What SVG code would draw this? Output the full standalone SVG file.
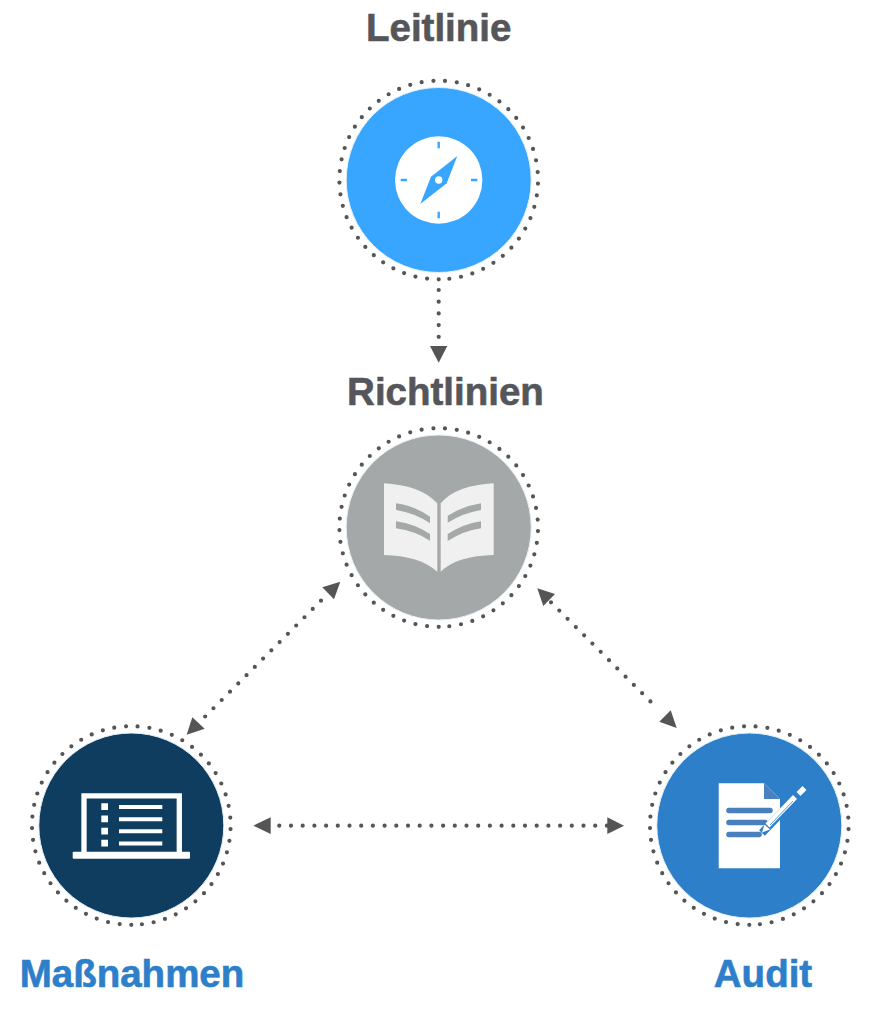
<svg xmlns="http://www.w3.org/2000/svg" width="885" height="1024" viewBox="0 0 885 1024">
<style>
.ring{fill:none;stroke:#555;stroke-width:4.2;stroke-linecap:round;stroke-dasharray:0 11.772}
.halo{stroke:#e6f0f5;stroke-width:1}
.flow{fill:none;stroke:#555;stroke-width:4.2;stroke-linecap:round;stroke-dasharray:0 11.7}
.head{fill:#555}
.t{font-family:"Liberation Sans",Arial,sans-serif;font-weight:700;font-size:38.5px;text-anchor:middle;stroke-width:.6}
.g{fill:#55565a;stroke:#55565a}.b{fill:#2e7fc9;stroke:#2e7fc9}
</style>
<rect width="885" height="1024" fill="#fff"/>
<g id="connectors">
<line class="flow" x1="438.700" y1="290" x2="438.700" y2="338"/>
<polygon class="head" points="430,346 447.300,346 438.700,362.700"/>
<line class="flow" x1="321" y1="600.700" x2="205" y2="716.700"/>
<polygon class="head" points="340.300,581.700 322.300,587.300 334,599.300"/>
<polygon class="head" points="186.700,734.700 192.300,717.300 204.700,728.700"/>
<line class="flow" x1="551" y1="602.300" x2="658.300" y2="709.300"/>
<polygon class="head" points="537.300,588.300 555,594 543.300,606"/>
<polygon class="head" points="676.700,728 659.300,721.700 670.700,710.300"/>
<line class="flow" x1="279.300" y1="825.700" x2="607" y2="825.700"/>
<polygon class="head" points="253.300,825.700 270.700,817.300 270.700,834"/>
<polygon class="head" points="624,825.700 607.300,817.300 607.300,834"/>
</g>
<g id="leitlinie">
<circle class="ring" cx="438.700" cy="180" r="99.300" transform="rotate(90 438.700 180)"/>
<circle cx="438.700" cy="180" r="92.500" fill="#38a6ff" class="halo"/>
<circle cx="438.700" cy="180" r="43.700" fill="#fff"/>
<polygon points="457.300,156 446.700,183.300 420.300,204 431,176.700" fill="#38a6ff"/>
<circle cx="438.700" cy="180" r="3.700" fill="#fff"/>
<path d="M438.700 141.700v6.500M438.700 211.800v6.500M400.700 180h6.300M471 180h6.300" stroke="#38a6ff" stroke-width="2.400" fill="none"/>
<text class="t g" x="438.700" y="41">Leitlinie</text>
</g>
<g id="richtlinien">
<circle class="ring" cx="438.700" cy="527.500" r="99.300" transform="rotate(90 438.700 527.500)"/>
<circle cx="438.700" cy="527.500" r="92.500" fill="#a5a8a8" class="halo"/>
<path d="M384 483.300C407 484.500 426 491 437.300 503.300V571.700C426 561 407 555.500 384 555Z" fill="#f0f0f0"/>
<path d="M493.700 483.300C470 484.500 451 491 440.700 503.300V571.700C451 561 470 555.500 493.700 555Z" fill="#f0f0f0"/>
<path d="M396 503.300Q415 506 430 516.700V523.300Q415 513 396 510ZM396 521.300Q415 524 430 534V540.700Q415 531 396 528.300ZM481 503.300Q463 506 447.700 515.700V522.700Q463 513 481 510ZM481 521.300Q463 524 447.700 534V541Q463 531 481 528.300Z" fill="#a5a8a8"/>
<text class="t g" x="445.500" y="405">Richtlinien</text>
</g>
<g id="massnahmen">
<circle class="ring" cx="131.300" cy="825.500" r="99.300" transform="rotate(90 131.300 825.500)"/>
<circle cx="131.300" cy="825.500" r="92.500" fill="#0f3d5f" class="halo"/>
<path d="M84 852V795.800H179.300V852" fill="none" stroke="#fff" stroke-width="5.300"/>
<rect x="72.700" y="851.700" width="117.300" height="7" rx="1" fill="#fff"/>
<path d="M101.300 803.300h6.700v6.700h-6.700zM101.300 815.500h6.700v6.700h-6.700zM101.300 827.700h6.700v6.700h-6.700zM101.300 839.800h6.700v6.700h-6.700z" fill="#fff"/>
<path d="M119 805h43.300v4h-43.300zM119 817.200h43.300v4h-43.300zM119 829.300h43.300v4h-43.300zM119 841.400h43.300v4h-43.300z" fill="#fff"/>
<text class="t b" x="132" y="987">Maßnahmen</text>
</g>
<g id="audit">
<circle class="ring" cx="749.300" cy="825.500" r="99.300" transform="rotate(90 749.300 825.500)"/>
<circle cx="749.300" cy="825.500" r="92.500" fill="#2e7fc9" class="halo"/>
<path d="M718.700 783.300H764L780 799V868.300H718.700Z" fill="#fff"/>
<path d="M764 783.300V799H780Z" fill="#4a82c0"/>
<path d="M729 810.500H770M729 822.500H765M729 834.500H759" stroke="#4a7fbd" stroke-width="5.600" stroke-linecap="round" fill="none"/>
<path d="M762 833L806 787" stroke="#2e7fc9" stroke-width="8" fill="none"/>
<path d="M767.500 825.500L795 797" stroke="#fff" stroke-width="5.500" fill="none"/>
<path d="M770 825L793 801" stroke="#5a9ad6" stroke-width="1" fill="none"/>
<path d="M798.500 794L804.500 788" stroke="#fff" stroke-width="5.500" fill="none"/>
<polygon points="762,832.500 764.500,824.500 770,829.500" fill="#fff"/>
<text class="t b" x="763" y="987">Audit</text>
</g>
</svg>
